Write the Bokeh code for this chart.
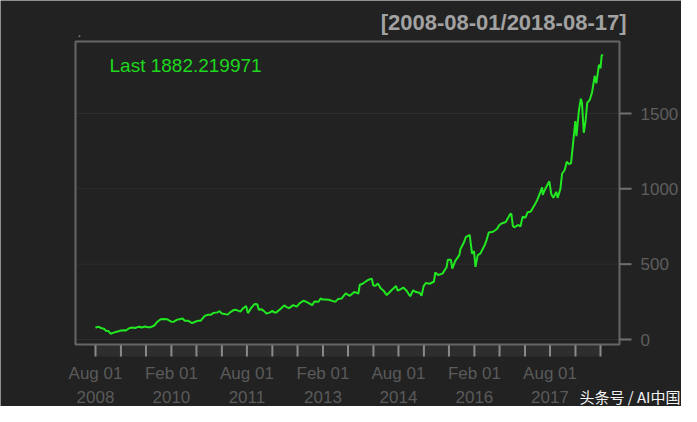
import math
import pandas as pd
from bokeh.plotting import figure
from bokeh.models import Range1d, ColumnDataSource
from bokeh.core.properties import value
from bokeh.embed import file_html
from bokeh.resources import INLINE

# ---------------- data ----------------
dates = [
    "2008-08-01", "2008-08-15", "2008-09-01", "2008-09-15", "2008-10-01", "2008-10-15",
    "2008-11-01", "2008-11-20", "2008-12-05", "2008-12-31", "2009-01-15", "2009-02-01",
    "2009-03-01", "2009-03-10", "2009-04-01", "2009-04-24", "2009-05-15", "2009-06-01",
    "2009-06-15", "2009-07-01", "2009-07-24", "2009-08-15", "2009-09-01", "2009-09-30",
    "2009-10-23", "2009-11-15", "2009-12-01", "2009-12-31", "2010-01-15", "2010-02-01",
    "2010-02-15", "2010-03-15", "2010-04-01", "2010-04-23", "2010-05-07", "2010-06-01",
    "2010-07-01", "2010-07-23", "2010-08-15", "2010-09-01", "2010-09-30", "2010-10-23",
    "2010-11-15", "2010-12-01", "2010-12-31", "2011-01-15", "2011-02-01", "2011-03-15",
    "2011-04-01", "2011-04-29", "2011-05-15", "2011-06-15", "2011-07-01", "2011-07-26",
    "2011-08-08", "2011-09-01", "2011-09-27", "2011-10-15", "2011-10-26", "2011-11-15",
    "2011-12-01", "2011-12-20", "2012-01-15", "2012-02-01", "2012-02-15", "2012-03-01",
    "2012-03-30", "2012-04-27", "2012-05-15", "2012-06-01", "2012-07-01", "2012-07-26",
    "2012-08-15", "2012-09-15", "2012-10-15", "2012-11-15", "2012-12-01", "2012-12-31",
    "2013-01-15", "2013-01-31", "2013-02-15", "2013-03-15", "2013-04-15", "2013-05-01",
    "2013-05-20", "2013-06-15", "2013-07-15", "2013-08-15", "2013-09-15", "2013-10-15",
    "2013-10-25", "2013-11-15", "2013-12-15", "2013-12-31", "2014-01-20", "2014-01-31",
    "2014-02-15", "2014-03-05", "2014-03-25", "2014-04-15", "2014-05-08", "2014-05-25",
    "2014-06-15", "2014-07-15", "2014-07-25", "2014-08-15", "2014-09-05", "2014-09-30",
    "2014-10-15", "2014-10-25", "2014-11-15", "2014-12-05", "2014-12-31", "2015-01-15",
    "2015-01-30", "2015-02-15", "2015-03-15", "2015-04-15", "2015-04-24", "2015-05-15",
    "2015-06-15", "2015-07-15", "2015-07-24", "2015-08-15", "2015-08-25", "2015-09-15",
    "2015-10-15", "2015-10-23", "2015-11-15", "2015-12-01", "2015-12-29", "2016-01-15",
    "2016-01-29", "2016-02-09", "2016-02-25", "2016-03-15", "2016-04-15", "2016-04-29",
    "2016-05-15", "2016-06-15", "2016-07-15", "2016-07-29", "2016-08-15", "2016-09-15",
    "2016-10-15", "2016-10-25", "2016-11-05", "2016-11-15", "2016-12-15", "2016-12-30",
    "2017-01-15", "2017-02-05", "2017-02-20", "2017-03-15", "2017-04-15", "2017-04-30",
    "2017-05-15", "2017-06-05", "2017-06-09", "2017-06-25", "2017-07-27", "2017-08-10",
    "2017-08-25", "2017-09-15", "2017-09-25", "2017-10-15", "2017-10-27", "2017-11-15",
    "2017-11-30", "2017-12-15", "2017-12-31", "2018-01-15", "2018-01-31", "2018-02-08",
    "2018-02-26", "2018-03-12", "2018-03-20", "2018-04-02", "2018-04-15", "2018-04-27",
    "2018-05-15", "2018-06-01", "2018-06-20", "2018-07-02", "2018-07-20", "2018-07-27",
    "2018-08-01", "2018-08-10", "2018-08-17",
]
prices = [
    78, 84, 81, 74, 72, 58,
    57, 37, 44, 51, 55, 60,
    62, 60, 75, 80, 76, 82,
    85, 80, 86, 82, 81, 93,
    118, 134, 136, 135, 127, 118,
    117, 132, 135, 140, 125, 125,
    108, 118, 125, 125, 157, 164,
    165, 176, 180, 188, 172, 165,
    180, 196, 197, 185, 204, 223,
    175, 210, 236, 234, 198, 200,
    190, 172, 180, 190, 180, 180,
    203, 226, 215, 208, 228, 218,
    240, 258, 245, 228, 252, 251,
    272, 265, 266, 264, 255, 250,
    268, 272, 306, 290, 316, 305,
    363, 370, 390, 398, 404, 358,
    357, 372, 340, 324, 295, 310,
    330, 355, 325, 333, 345, 322,
    300, 287, 327, 315, 310, 290,
    354, 375, 370, 385, 445, 428,
    437, 480, 530, 530, 470, 520,
    560, 600, 640, 680, 694, 570,
    587, 482, 560, 570, 625, 660,
    710, 715, 735, 758, 770, 780,
    830, 835, 755, 745, 760, 750,
    815, 810, 845, 850, 900, 925,
    960, 1010, 960, 995, 1050, 965,
    940, 980, 940, 1000, 1100, 1125,
    1180, 1165, 1170, 1305, 1450, 1350,
    1520, 1598, 1570, 1372, 1450, 1570,
    1590, 1640, 1750, 1700, 1820, 1820,
    1800, 1890, 1882.22,
]
last_price = 1882.219971
period_label = "[2008-08-01/2018-08-17]"
symbol_label = "."
y_ticks = [0, 500, 1000, 1500]
y_tick_labels = ["0", "500", "1000", "1500"]
tick_dates = [
    "2008-08-01", "2009-02-01", "2009-08-01", "2010-02-01", "2010-08-01", "2011-02-01",
    "2011-08-01", "2012-02-01", "2012-08-01", "2013-02-01", "2013-08-01", "2014-02-01",
    "2014-08-01", "2015-02-01", "2015-08-01", "2016-02-01", "2016-08-01", "2017-02-01",
    "2017-08-01", "2018-02-01", "2018-08-01",
]
label_dates = ["2008-08-01", "2010-02-01", "2011-08-01", "2013-02-01",
               "2014-08-01", "2016-02-01", "2017-08-01"]
label_month = ["Aug 01", "Feb 01", "Aug 01", "Feb 01", "Aug 01", "Feb 01", "Aug 01"]
label_year = ["2008", "2010", "2011", "2013", "2014", "2016", "2017"]
watermark = "头条号 / AI中国"

# ---------------- styling / layout ----------------
BG = "#222222"
GREEN = "#22e822"
FONT = value("Liberation Sans")
W, H = 681, 406


def ms(d):
    return int(pd.Timestamp(d).value // 10**6)


# scale anchors (pixels on the canvas)
X0, X1 = ms(tick_dates[0]), ms(tick_dates[-1])
PX0, PX1 = 95, 600
sx = (PX1 - PX0) / (X1 - X0)            # px per ms
PY0, PY1500 = 339, 113
sy = (PY0 - PY1500) / 1500.0            # px per price unit


def xd(px):
    return X0 + (px - PX0) / sx


def yd(py):
    return (PY0 - py) / sy


BOX_L, BOX_R, BOX_T, BOX_B, BAND_B = xd(75), xd(619), yd(41), yd(344), yd(356)

p = figure(width=W, height=H,
           x_range=Range1d(xd(0), xd(W)), y_range=Range1d(yd(H), yd(0)),
           x_axis_location=None, y_axis_location=None,
           toolbar_location=None, output_backend="svg",
           min_border=0)
p.background_fill_color = BG
p.border_fill_color = BG
p.outline_line_color = None
p.xgrid.visible = False
p.ygrid.visible = False

# horizontal grid
p.segment(x0=[BOX_L] * len(y_ticks), x1=[BOX_R] * len(y_ticks), y0=y_ticks, y1=y_ticks,
          line_color="#2d2d2d", line_width=1)

# tick band under the box
tick_ms = [ms(d) for d in tick_dates]
p.quad(left=[tick_ms[0]], right=[tick_ms[-1]], top=[BOX_B], bottom=[BAND_B],
       fill_color="#2e2e2e", line_color=None)
p.ray(x=tick_ms, y=[BOX_B] * len(tick_ms), length=12, length_units="screen",
      angle=-math.pi / 2, line_color="#8a8a8a", line_width=2)

# plot box
p.quad(left=[BOX_L], right=[BOX_R], top=[BOX_T], bottom=[BOX_B],
       fill_color=None, line_color="#666666", line_width=2)

# right value axis
p.ray(x=[BOX_R] * len(y_ticks), y=y_ticks, length=12, length_units="screen", angle=0,
      line_color="#707070", line_width=2)
p.text(x=[BOX_R] * len(y_ticks), y=y_ticks, text=y_tick_labels, x_offset=21,
       text_align="left", text_baseline="middle", text_font=FONT,
       text_font_size="17px", text_color="#5e5e5e")

# date labels
label_ms = [ms(d) for d in label_dates]
p.text(x=label_ms, y=[BOX_B] * len(label_ms), text=label_month, y_offset=29,
       text_align="center", text_baseline="middle", text_font=FONT,
       text_font_size="17px", text_color="#5a5a5a")
p.text(x=label_ms, y=[BOX_B] * len(label_ms), text=label_year, y_offset=52,
       text_align="center", text_baseline="middle", text_font=FONT,
       text_font_size="17px", text_color="#5a5a5a")

# price line
src = ColumnDataSource(dict(x=[ms(d) for d in dates], y=prices))
p.line("x", "y", source=src, line_color=GREEN, line_width=2)

# titles and notes
p.text(x=[BOX_R], y=[BOX_T], text=[period_label], x_offset=7, y_offset=-19,
       text_align="right", text_baseline="middle", text_font=FONT,
       text_font_size="22px", text_font_style="bold", text_color="#a2a2a2")
p.text(x=[BOX_L], y=[BOX_T], text=[symbol_label], x_offset=2, y_offset=-10,
       text_align="left", text_baseline="middle", text_font=FONT,
       text_font_size="14px", text_color="#888888")
p.text(x=[BOX_L], y=[BOX_T], text=["Last %.6f" % last_price], x_offset=34, y_offset=24,
       text_align="left", text_baseline="middle", text_font=FONT,
       text_font_size="19px", text_color="#1ed81e")
p.text(x=[BOX_R], y=[BOX_B], text=[watermark], x_offset=61, y_offset=52,
       text_align="right", text_baseline="middle", text_font=value("Noto Sans CJK SC"),
       text_font_size="15px", text_color="#f2f2f2")

open("out.html", "w").write(file_html(p, INLINE))
